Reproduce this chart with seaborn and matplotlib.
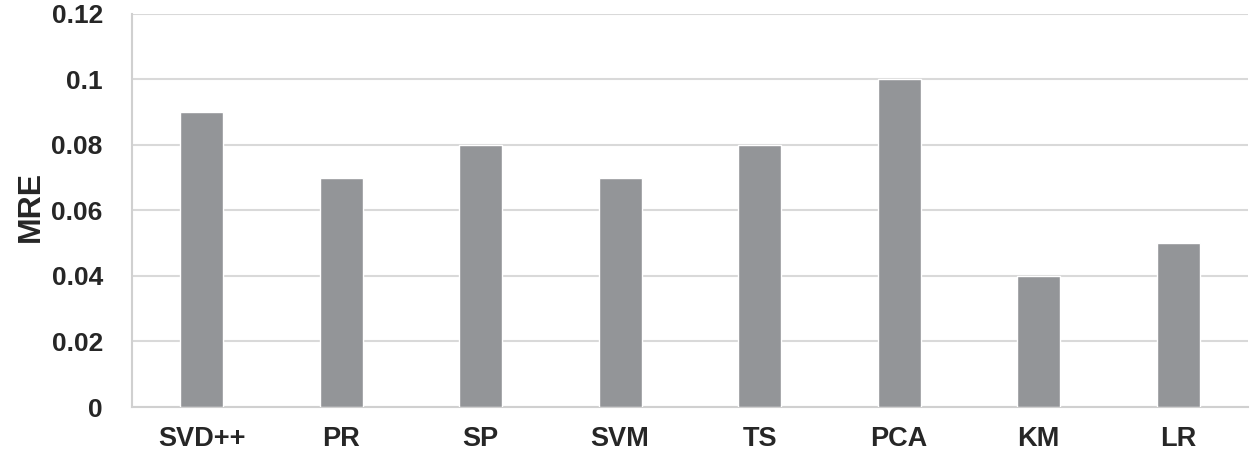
import matplotlib
matplotlib.use("Agg")
import matplotlib.pyplot as plt
import seaborn as sns
import pandas as pd

# ---- data ----
methods = ["SVD++", "PR", "SP", "SVM", "TS", "PCA", "KM", "LR"]
mre = [0.09, 0.07, 0.08, 0.07, 0.08, 0.10, 0.04, 0.05]
yticks = [0, 0.02, 0.04, 0.06, 0.08, 0.1, 0.12]
ytick_labels = ["0", "0.02", "0.04", "0.06", "0.08", "0.1", "0.12"]

df = pd.DataFrame({"Method": methods, "MRE": mre})

sns.set_style("white")
plt.rcParams["font.family"] = ["Liberation Sans", "DejaVu Sans"]

fig = plt.figure(figsize=(12.51, 4.54), dpi=100)
ax = fig.add_axes([0.1055, 0.1035, 0.892, 0.866])

sns.barplot(data=df, x="Method", y="MRE", color="#939598", width=0.31,
            saturation=1, ax=ax, zorder=3)

ax.set_ylim(0, 0.12)
ax.set_xlim(-0.5, len(methods) - 0.5)
ax.set_yticks(yticks)
ax.set_yticklabels(ytick_labels, fontsize=19, fontweight="bold")
for lab in ax.get_xticklabels():
    lab.set_fontsize(19.5)
    lab.set_fontweight("bold")
ax.grid(axis="y", color="#d9d9d9", linewidth=1.5, zorder=0)
ax.set_axisbelow(True)
ax.tick_params(axis="x", length=0, pad=14)
ax.tick_params(axis="y", length=0, pad=21)

for side in ["top", "right"]:
    ax.spines[side].set_visible(False)
for side in ["left", "bottom"]:
    ax.spines[side].set_color("#d0d0d0")
    ax.spines[side].set_linewidth(1.5)

ax.set_xlabel("")
ax.set_ylabel("MRE", fontsize=23, fontweight="bold")
ax.yaxis.set_label_coords(-0.1055 + 2 / 1251, 0.51)
ax.yaxis.label.set_horizontalalignment("center")
ax.yaxis.label.set_verticalalignment("top")

fig.savefig("out.png", dpi=100)
